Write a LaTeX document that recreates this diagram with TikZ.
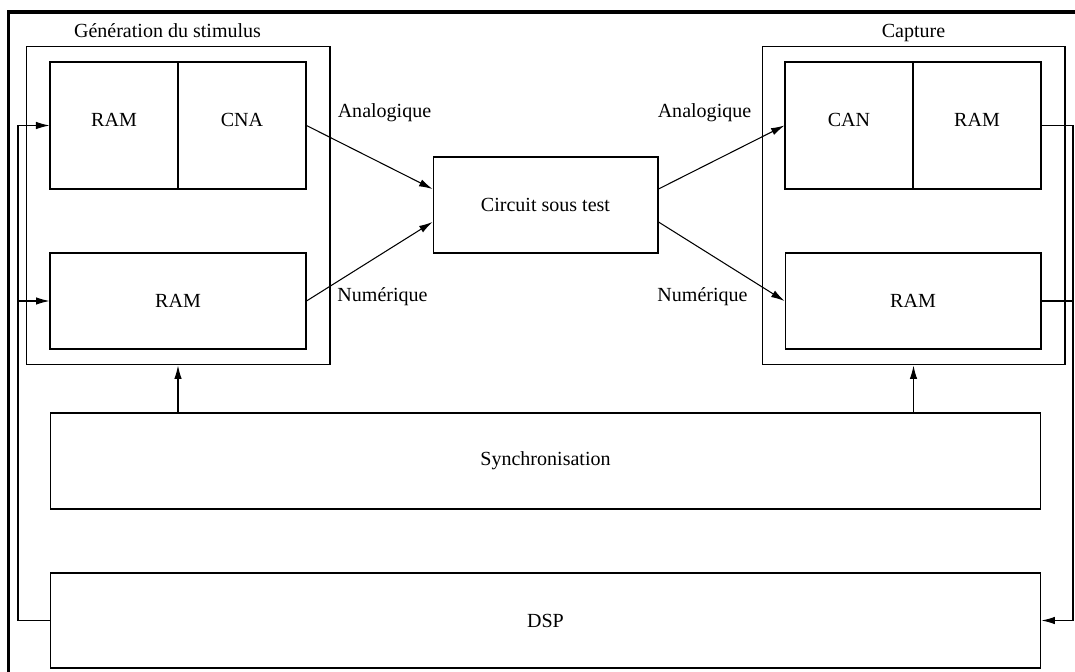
\documentclass[tikz,border=0pt]{standalone}
\usepackage{fontspec}
\setmainfont{Liberation Serif}
\usepackage{tikz}
\usetikzlibrary{calc,arrows.meta}
\definecolor{ink}{HTML}{000000}
\tikzset{
  frame/.style={draw=ink, line width=2pt},
  grp/.style={draw=ink, line width=0.6pt, rectangle, inner sep=0pt},
  blk/.style={draw=ink, line width=0.6pt, rectangle, inner sep=0pt, font=\fontsize{11.4}{13.7}\selectfont},
  blkt/.style={blk, text height=0.26cm, text depth=0.22cm},
  wire/.style={draw=ink, line width=0.6pt},
  arr/.style={wire, -{Latex[length=0.27cm,width=0.15cm]}},
  lab/.style={text=ink, inner sep=0pt, anchor=base, font=\fontsize{11.4}{13.7}\selectfont},
}

\begin{document}
\begin{tikzpicture}[x=0.02cm, y=-0.02cm]
  \useasboundingbox (0,0) rectangle (1075,672);
  \begin{scope}
    \clip (0,0) rectangle (1075,672);
    \draw[frame] (8.5,12) rectangle (1100,700);
  \end{scope}

  % generation du stimulus
  \node[grp, minimum width=6.08cm, minimum height=6.38cm] (genbox) at (178,205.5) {};
  \node[lab] (titgen) at (167.5,37.5) {Génération du stimulus};
  \node[blkt, minimum width=2.56cm, minimum height=2.54cm] (ramgen) at (114,125.5) {RAM};
  \node[blkt, minimum width=2.56cm, minimum height=2.54cm] (cna) at (242,125.5) {CNA};
  \node[blk, minimum width=5.12cm, minimum height=1.92cm] (ramnum) at (178,301) {RAM};

  % capture
  \node[grp, minimum width=6.06cm, minimum height=6.38cm] (capbox) at (913.5,205.5) {};
  \node[lab] (titcap) at (913.5,37.5) {Capture};
  \node[blkt, minimum width=2.56cm, minimum height=2.54cm] (can) at (849,125.5) {CAN};
  \node[blkt, minimum width=2.56cm, minimum height=2.54cm] (ramcap) at (977,125.5) {RAM};
  \node[blk, minimum width=5.12cm, minimum height=1.92cm] (ramcapnum) at (913,301) {RAM};

  \node[blk, minimum width=4.5cm, minimum height=1.92cm] (cst) at (545.5,205) {Circuit sous test};
  \node[blk, minimum width=19.82cm, minimum height=1.92cm] (sync) at (545.5,461) {Synchronisation};
  \node[blk, minimum width=19.82cm, minimum height=1.9cm] (dsp) at (545.5,620.5) {DSP};

  \node[lab] (anagen) at (384.5,118) {Analogique};
  \node[lab] (numgen) at (382.5,301) {Numérique};
  \node[lab] (anacap) at (704.5,118) {Analogique};
  \node[lab] (numcap) at (702.5,301) {Numérique};

  \draw[arr] (cna.east) -- ($(cst.west)+(0,-16)$);
  \draw[arr] (ramnum.east) -- ($(cst.west)+(0,17)$);
  \draw[arr] ($(cst.east)+(0,-16)$) -- (can.west);
  \draw[arr] ($(cst.east)+(0,17)$) -- (ramcapnum.west);

  \draw[arr] (genbox.south |- sync.north) -- (genbox.south);
  \draw[arr] (capbox.south |- sync.north) -- (capbox.south);

  % retours DSP
  \coordinate (fbl) at (18,125.5);
  \coordinate (fbr) at (1073,125.5);
  \draw[arr] (dsp.west) -| (fbl) -- (ramgen.west);
  \draw[arr] (fbl |- ramnum.west) -- (ramnum.west);
  \draw[arr] (ramcap.east) -- (fbr) |- (dsp.east);
  \draw[wire] (ramcapnum.east) -- (fbr |- ramcapnum.east);
\end{tikzpicture}
\end{document}
